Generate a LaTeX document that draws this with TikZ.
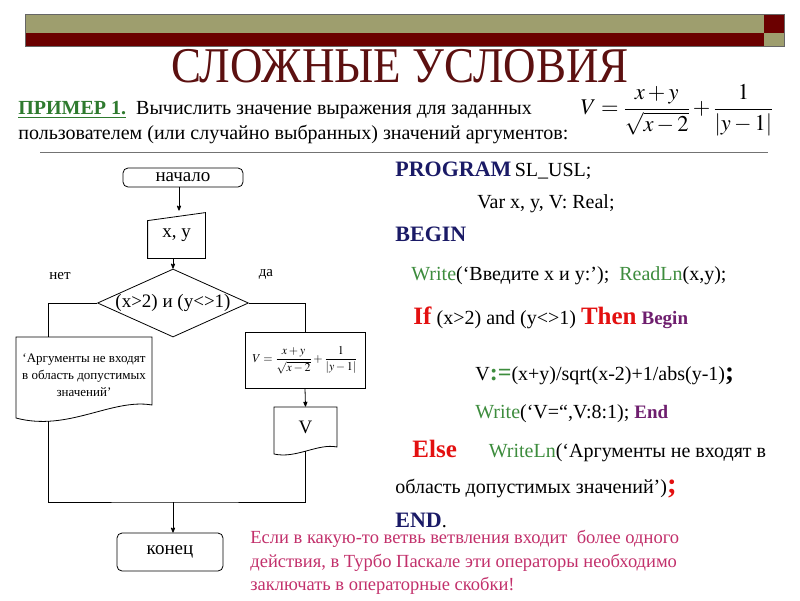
\documentclass[tikz,border=0pt]{standalone}
\usepackage{mathptmx}
\usepackage[no-math]{fontspec}
\setmainfont{Liberation Serif}
\usetikzlibrary{shapes,arrows,positioning,calc}
\definecolor{barOlive}{HTML}{9E9E6E}
\definecolor{barRed}{HTML}{6B0000}
\definecolor{titleRed}{HTML}{5C1010}
\definecolor{kwNavy}{HTML}{1A1A66}
\definecolor{fnGreen}{HTML}{3D8C3D}
\definecolor{exGreen}{HTML}{2E7A2E}
\definecolor{kwRed}{HTML}{E31010}
\definecolor{kwPurple}{HTML}{6E1E6E}
\definecolor{notePink}{HTML}{C2306B}
\newcommand{\fs}[1]{\fontsize{#1}{#1}\selectfont}
\newcommand{\Kw}[1]{\textcolor{kwNavy}{\fs{22}\textbf{#1}}}
\newcommand{\Fn}[1]{\textcolor{fnGreen}{#1}}
\newcommand{\Hot}[1]{\textcolor{kwRed}{\fs{25}\textbf{#1}}}
\newcommand{\Blk}[1]{\textcolor{kwPurple}{\fs{19}\textbf{#1}}}

\begin{document}
\begin{tikzpicture}[x=1pt, y=-1pt, >=stealth', line width=0.8pt,
    txt/.style={anchor=base west, inner sep=0pt, font=\fs{20}},
    term/.style={draw, rounded corners=5pt, inner sep=0pt, font=\fs{19}},
    cond/.style={draw, diamond, minimum width=151pt, minimum height=68pt, inner sep=0pt},
    proc/.style={draw, minimum width=120pt, minimum height=56pt, inner sep=0pt},
    hidden/.style={inner sep=0pt, font=\fs{19}}]
  \useasboundingbox (0,0) rectangle (800,600);

  % header bar
  \fill[barOlive] (25,14) rectangle (764,33);
  \fill[barRed] (25,33) rectangle (764,46);
  \fill[barRed] (764,14) rectangle (784,33);
  \fill[barOlive] (764,33) rectangle (784,46);
  \draw[black!60, line width=0.5pt] (25,14) rectangle (784,46);

  \node[anchor=base, inner sep=0pt, text=titleRed] (title) at (400,82)
    {\fs{50}\scalebox{0.9}[1]{СЛОЖНЫЕ УСЛОВИЯ}};

  \node[txt] (task) at (18,114)
    {\textcolor{exGreen}{\textbf{\underline{ПРИМЕР 1.}}}\ \ Вычислить значение выражения для заданных};
  \node[txt] (task2) at (18,139)
    {пользователем (или случайно выбранных) значений аргументов:};
  \node[inner sep=0pt] (formula) at (677,110)
    {\fs{22.5}$\displaystyle V=\frac{x+y}{\sqrt{x-2}}+\frac{1}{|y-1|}$};
  \draw[black!55, line width=1pt] (40,152) -- (768,152);

  % flowchart
  \node[term, minimum width=120pt, minimum height=19pt] (start) at (183,177.5) {начало};
  \node[hidden, minimum width=57pt, minimum height=45pt] (xy) at (176.5,235.5) {x, y};
  \draw (xy.south west) -- (xy.south east) -- (xy.north east)
    -- ([yshift=-8pt]xy.north west) -- cycle;
  \coordinate (xyin) at (179,210.6);
  \draw[->] (start.south -| xyin) -- (xyin);

  \node[cond] (cond) at (173,303) {};
  \node[hidden] (condtext) at (cond.center) {(x>2) и (y<>1)};
  \draw[->] (xy.south -| cond.north) -- (cond.north);
  \node[hidden, font=\fs{15}] (no) at (60,276) {нет};
  \node[hidden, font=\fs{15}] (yes) at (266,274) {да};

  % no branch
  \node[hidden, font=\fontsize{13}{17}\selectfont, align=center] (err) at (84,375)
    {‘Аргументы не входят\\ в область допустимых\\ значений’};
  \draw (16,337) -- (152,337) -- (152,405)
    .. controls (112,398) and (68,432) .. (16,418) -- cycle;
  \coordinate (errin) at (48,337);
  \coordinate (errout) at (48,421);
  \draw (cond.west) -| (errin);

  % yes branch
  \node[proc] (calc) at (305,360)
    {\fs{12}$\displaystyle V=\frac{x+y}{\sqrt{x-2}}+\frac{1}{|y-1|}$};
  \draw (cond.east) -| (calc.north);
  \node[hidden, minimum width=63pt, minimum height=40pt] (vout) at (305.5,427) {V};
  \draw (274,407) -- (337,407) -- (337,447)
    .. controls (318,443) and (296,459) .. (274,454) -- cycle;
  \draw[->] (calc.south) -- (vout.north);
  \coordinate (vend) at (305.5,451);

  \coordinate (join) at (173,502);
  \draw (errout) |- (join) -| (vend);
  \node[term, minimum width=106pt, minimum height=38pt] (stop) at (170,552) {конец};
  \draw[->] (join) -- (join |- stop.north);

  % program text
  \node[txt] (prog) at (395,176) {\Kw{PROGRAM}\,SL\_USL;};
  \node[txt] (vars) at (477,208) {Var x, y, V: Real;};
  \node[txt] (begin) at (395,241) {\Kw{BEGIN}};
  \node[txt] (readin) at (411,280)
    {\Fn{Write}(‘Введите x и y:’);\ \ \Fn{ReadLn}(x,y);};
  \node[txt] (iftest) at (413,324)
    {\Hot{If} (x>2) and (y<>1) \Hot{Then} \Blk{Begin}};
  \node[txt] (assign) at (475,380)
    {V\textcolor{fnGreen}{\fs{24}\textbf{:=}}(x+y)/sqrt(x-2)+1/abs(y-1){\fs{27}\textbf{;}}};
  \node[txt] (writev) at (475,418) {\Fn{Write}(‘V=“,V:8:1); \Blk{End}};
  \node[txt] (elsebr) at (412,457)
    {\Hot{Else}\hspace{32pt}\Fn{WriteLn}(‘Аргументы не входят в};
  \node[txt] (elsecont) at (395,493)
    {область допустимых значений’)\textcolor{kwRed}{\fs{29}\textbf{;}}};
  \node[txt] (endprog) at (395,527) {\Kw{END}.};

  \node[anchor=north west, inner sep=0pt, align=left, text=notePink,
    font=\fontsize{18.5}{23.5}\selectfont] (note) at (250,530)
    {Если в какую-то ветвь ветвления входит\ \ более одного\\
     действия, в Турбо Паскале эти операторы необходимо\\
     заключать в операторные скобки!};
\end{tikzpicture}
\end{document}
